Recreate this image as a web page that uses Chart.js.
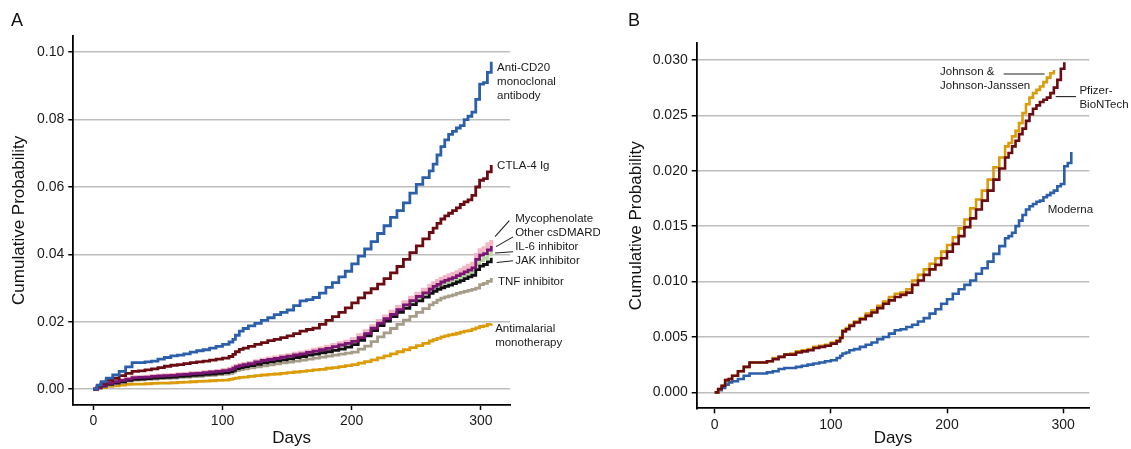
<!DOCTYPE html>
<html>
<head>
<meta charset="utf-8">
<script src="https://cdn.jsdelivr.net/npm/chart.js@4"></script>
<style>
  body { margin: 0; background: #fff; }
  #wrap { position: relative; width: 1131px; height: 449px; overflow: hidden; }
  canvas { position: absolute; top: 0; }
  .panel { position: absolute; top: 11px; font: 18px "Liberation Sans", Arial, sans-serif; color: #111; line-height: 1; }
</style>
</head>
<body>
<div id="wrap">
  <canvas id="chartA" width="600" height="449" style="left:0"></canvas>
  <canvas id="chartB" width="531" height="449" style="left:600px"></canvas>
  <div class="panel" style="left:11px">A</div>
  <div class="panel" style="left:628px">B</div>
</div>
<script>
// panel A - days since vaccination, cumulative probability per drug class
const daysA = [0, 3, 6, 10, 15, 20, 25, 30, 35, 40, 45, 50, 55, 60, 65, 70, 75, 80, 85, 90, 95,
  100, 105, 108, 110, 113, 116, 120,
  125, 130, 135, 140, 145, 150, 155, 160, 165, 170, 175, 180, 185, 190, 195, 200,
  205, 210, 215, 220, 225, 230, 235, 240, 245, 250, 255, 260,
  263, 266, 269, 272, 275, 278, 281, 284, 287, 290, 293, 296, 299, 302, 305, 308];
const antiCD20 = [0, 0.0012, 0.0022, 0.0033, 0.0042, 0.0053, 0.0066, 0.0079, 0.0079, 0.0081, 0.0083, 0.0089, 0.0094, 0.0099, 0.0101, 0.0105, 0.0110, 0.0114, 0.0117, 0.0122, 0.0127,
  0.0133, 0.0140, 0.0148, 0.0160, 0.0172, 0.0180, 0.0188,
  0.0195, 0.0204, 0.0212, 0.0221, 0.0228, 0.0235, 0.0248, 0.0262, 0.0266, 0.0272, 0.0285, 0.0302, 0.0316, 0.0333, 0.0350, 0.0372,
  0.0395, 0.0416, 0.0438, 0.0462, 0.0485, 0.0510, 0.0530, 0.0553, 0.0582, 0.0608, 0.0628, 0.0648,
  0.0668, 0.0695, 0.0720, 0.0740, 0.0756, 0.0765, 0.0775, 0.0782, 0.0800, 0.0810, 0.0822, 0.0860, 0.0905, 0.0910, 0.0940, 0.0972];
const ctla4 = [0, 0.0009, 0.0017, 0.0026, 0.0032, 0.0040, 0.0047, 0.0053, 0.0054, 0.0057, 0.0060, 0.0064, 0.0068, 0.0071, 0.0073, 0.0076, 0.0079, 0.0081, 0.0083, 0.0086, 0.0089,
  0.0092, 0.0097, 0.0103, 0.0111, 0.0118, 0.0122, 0.0127,
  0.0133, 0.0138, 0.0144, 0.0148, 0.0153, 0.0158, 0.0165, 0.0172, 0.0177, 0.0181, 0.0192, 0.0204, 0.0215, 0.0228, 0.0241, 0.0256,
  0.0271, 0.0286, 0.0298, 0.0312, 0.0328, 0.0345, 0.0364, 0.0385, 0.0405, 0.0425, 0.0446, 0.0465,
  0.0478, 0.0492, 0.0505, 0.0514, 0.0522, 0.0530, 0.0538, 0.0548, 0.0556, 0.0562, 0.0575, 0.0600, 0.0620, 0.0625, 0.0645, 0.0665];
const mycophenolate = [0, 0.0006, 0.0012, 0.0018, 0.0023, 0.0027, 0.0031, 0.0035, 0.0036, 0.0037, 0.0039, 0.0040, 0.0041, 0.0042, 0.0044, 0.0045, 0.0047, 0.0048, 0.0050, 0.0052, 0.0054,
  0.0057, 0.0060, 0.0064, 0.0069, 0.0072, 0.0075, 0.0078,
  0.0083, 0.0087, 0.0091, 0.0094, 0.0098, 0.0101, 0.0105, 0.0108, 0.0112, 0.0117, 0.0121, 0.0126, 0.0131, 0.0136, 0.0141, 0.0148,
  0.0160, 0.0172, 0.0187, 0.0202, 0.0216, 0.0230, 0.0244, 0.0258, 0.0271, 0.0283, 0.0295, 0.0306,
  0.0314, 0.0321, 0.0328, 0.0333, 0.0338, 0.0342, 0.0347, 0.0353, 0.0360, 0.0366, 0.0372, 0.0398, 0.0412, 0.0418, 0.0430, 0.0443];
const otherCsdmard = [0, 0.0005, 0.0010, 0.0016, 0.0021, 0.0025, 0.0029, 0.0032, 0.0033, 0.0034, 0.0036, 0.0037, 0.0038, 0.0040, 0.0041, 0.0042, 0.0044, 0.0045, 0.0047, 0.0049, 0.0051,
  0.0053, 0.0056, 0.0060, 0.0065, 0.0068, 0.0071, 0.0074,
  0.0078, 0.0082, 0.0085, 0.0088, 0.0092, 0.0095, 0.0099, 0.0102, 0.0106, 0.0109, 0.0113, 0.0117, 0.0122, 0.0127, 0.0132, 0.0137,
  0.0149, 0.0162, 0.0178, 0.0193, 0.0205, 0.0218, 0.0232, 0.0245, 0.0257, 0.0268, 0.0279, 0.0290,
  0.0297, 0.0303, 0.0310, 0.0314, 0.0318, 0.0322, 0.0327, 0.0332, 0.0338, 0.0343, 0.0349, 0.0370, 0.0382, 0.0388, 0.0399, 0.0410];
const il6 = [0, 0.0005, 0.0011, 0.0017, 0.0022, 0.0026, 0.0030, 0.0034, 0.0035, 0.0036, 0.0038, 0.0039, 0.0040, 0.0041, 0.0043, 0.0044, 0.0046, 0.0047, 0.0049, 0.0051, 0.0053,
  0.0055, 0.0058, 0.0062, 0.0067, 0.0070, 0.0073, 0.0076,
  0.0081, 0.0085, 0.0088, 0.0091, 0.0095, 0.0098, 0.0102, 0.0105, 0.0109, 0.0113, 0.0117, 0.0121, 0.0126, 0.0131, 0.0136, 0.0142,
  0.0153, 0.0165, 0.0181, 0.0196, 0.0209, 0.0222, 0.0236, 0.0250, 0.0263, 0.0275, 0.0286, 0.0297,
  0.0305, 0.0311, 0.0318, 0.0323, 0.0327, 0.0331, 0.0337, 0.0342, 0.0348, 0.0353, 0.0360, 0.0385, 0.0398, 0.0402, 0.0413, 0.0425];
const jak = [0, 0.0004, 0.0009, 0.0014, 0.0018, 0.0022, 0.0026, 0.0029, 0.0030, 0.0031, 0.0033, 0.0034, 0.0035, 0.0036, 0.0038, 0.0039, 0.0041, 0.0042, 0.0044, 0.0045, 0.0047,
  0.0049, 0.0052, 0.0056, 0.0061, 0.0064, 0.0067, 0.0070,
  0.0074, 0.0078, 0.0081, 0.0084, 0.0087, 0.0090, 0.0094, 0.0097, 0.0101, 0.0104, 0.0108, 0.0111, 0.0115, 0.0119, 0.0125, 0.0132,
  0.0145, 0.0158, 0.0174, 0.0189, 0.0202, 0.0215, 0.0228, 0.0240, 0.0251, 0.0262, 0.0273, 0.0284,
  0.0290, 0.0296, 0.0301, 0.0305, 0.0309, 0.0313, 0.0318, 0.0322, 0.0328, 0.0333, 0.0338, 0.0355, 0.0365, 0.0370, 0.0378, 0.0390];
const tnf = [0, 0.0004, 0.0008, 0.0012, 0.0016, 0.0020, 0.0024, 0.0027, 0.0028, 0.0029, 0.0030, 0.0031, 0.0032, 0.0033, 0.0035, 0.0036, 0.0037, 0.0038, 0.0040, 0.0041, 0.0043,
  0.0045, 0.0047, 0.0051, 0.0055, 0.0058, 0.0060, 0.0063,
  0.0066, 0.0069, 0.0072, 0.0075, 0.0078, 0.0080, 0.0083, 0.0086, 0.0089, 0.0092, 0.0095, 0.0098, 0.0101, 0.0104, 0.0107, 0.0110,
  0.0119, 0.0128, 0.0141, 0.0155, 0.0167, 0.0180, 0.0192, 0.0205, 0.0216, 0.0228, 0.0239, 0.0250,
  0.0257, 0.0264, 0.0270, 0.0274, 0.0277, 0.0280, 0.0284, 0.0287, 0.0290, 0.0293, 0.0296, 0.0300, 0.0310, 0.0314, 0.0320, 0.0330];
const antimalarial = [0, 0.0003, 0.0005, 0.0008, 0.0010, 0.0012, 0.0014, 0.0015, 0.0015, 0.0016, 0.0017, 0.0018, 0.0018, 0.0019, 0.0020, 0.0021, 0.0022, 0.0023, 0.0024, 0.0025, 0.0026,
  0.0027, 0.0029, 0.0031, 0.0033, 0.0035, 0.0036, 0.0038,
  0.0040, 0.0042, 0.0044, 0.0045, 0.0047, 0.0049, 0.0051, 0.0053, 0.0055, 0.0057, 0.0059, 0.0062, 0.0064, 0.0067, 0.0070, 0.0073,
  0.0077, 0.0082, 0.0087, 0.0093, 0.0099, 0.0105, 0.0111, 0.0117, 0.0123, 0.0129, 0.0136, 0.0143,
  0.0147, 0.0151, 0.0155, 0.0158, 0.0161, 0.0163, 0.0166, 0.0169, 0.0172, 0.0174, 0.0178, 0.0182, 0.0186, 0.0188, 0.0192, 0.0195];

// panel B - by vaccine (null = no follow-up left)
const daysB = [0, 3, 6, 9, 12, 15, 20, 25, 30, 35, 40, 45, 50, 55, 60, 65, 70, 75, 80, 85, 90, 95, 100,
  105, 108, 110, 113, 116, 120,
  125, 130, 135, 140, 145, 150, 155, 160, 165, 170, 175, 180, 185, 190, 195, 200, 205, 210, 215, 220, 225, 230, 235, 240, 245, 250,
  253, 256, 259, 262, 265, 268, 271, 274, 277, 280, 283, 286, 289, 292, 295, 298, 301, 304, 307];
const janssen = [0, 0.0003, 0.0006, 0.0011, 0.0012, 0.0015, 0.0019, 0.0023, 0.0027, 0.0027, 0.0027, 0.0028, 0.0031, 0.0032, 0.0034, 0.0035, 0.0037, 0.0038, 0.0039, 0.0041, 0.0042, 0.0043, 0.0045,
  0.0047, 0.0050, 0.0056, 0.0058, 0.0061, 0.0064,
  0.0067, 0.0071, 0.0074, 0.0078, 0.0082, 0.0086, 0.0089, 0.0090, 0.0093, 0.0101, 0.0106, 0.0111, 0.0116, 0.0121, 0.0127, 0.0133, 0.0140, 0.0148, 0.0156, 0.0166, 0.0174, 0.0182, 0.0192, 0.0203, 0.0212, 0.0222,
  0.0225, 0.0231, 0.0236, 0.0243, 0.0252, 0.0260, 0.0266, 0.0270, 0.0273, 0.0276, 0.0280, 0.0284, 0.0288, 0.0291, null, null, null, null, null];
const pfizer = [0, 0.0003, 0.0006, 0.0011, 0.0012, 0.0015, 0.0019, 0.0023, 0.0027, 0.0027, 0.0027, 0.0028, 0.0030, 0.0032, 0.0034, 0.0034, 0.0036, 0.0037, 0.0038, 0.0040, 0.0041, 0.0042, 0.0044,
  0.0046, 0.0049, 0.0055, 0.0057, 0.0060, 0.0063,
  0.0066, 0.0069, 0.0072, 0.0076, 0.0080, 0.0083, 0.0086, 0.0088, 0.0090, 0.0097, 0.0101, 0.0106, 0.0111, 0.0115, 0.0121, 0.0127, 0.0134, 0.0141, 0.0149, 0.0157, 0.0165, 0.0173, 0.0182, 0.0192, 0.0202, 0.0212,
  0.0216, 0.0222, 0.0227, 0.0233, 0.0238, 0.0245, 0.0251, 0.0256, 0.0259, 0.0262, 0.0264, 0.0266, 0.0270, 0.0275, 0.0282, 0.0292, 0.0298, null, null];
const moderna = [0, 0.0002, 0.0004, 0.0007, 0.0009, 0.0010, 0.0012, 0.0015, 0.0017, 0.0017, 0.0017, 0.0018, 0.0019, 0.0021, 0.0022, 0.0022, 0.0023, 0.0024, 0.0025, 0.0026, 0.0027, 0.0028, 0.0029,
  0.0031, 0.0033, 0.0035, 0.0036, 0.0038, 0.0039,
  0.0041, 0.0043, 0.0045, 0.0048, 0.0050, 0.0053, 0.0056, 0.0057, 0.0059, 0.0061, 0.0064, 0.0067, 0.0071, 0.0075, 0.0080, 0.0084, 0.0089, 0.0093, 0.0097, 0.0101, 0.0107, 0.0112, 0.0118, 0.0125, 0.0132, 0.0139,
  0.0141, 0.0144, 0.0150, 0.0155, 0.0160, 0.0165, 0.0168, 0.0170, 0.0172, 0.0173, 0.0176, 0.0178, 0.0180, 0.0182, 0.0186, 0.0188, 0.0204, 0.0207, 0.0217];

const xTicks = [0, 100, 200, 300];
const yTicksA = [0, 0.02, 0.04, 0.06, 0.08, 0.10];
const yTicksB = [0, 0.005, 0.010, 0.015, 0.020, 0.025, 0.030];

// text labels next to the curve ends (day, probability)
const notesA = [
  { day: 312.5, val: 0.0955, lines: ['Anti-CD20', 'monoclonal', 'antibody'] },
  { day: 312.5, val: 0.0663, lines: ['CTLA-4 Ig'] },
  { day: 326.5, val: 0.0505, lines: ['Mycophenolate'] },
  { day: 326.5, val: 0.0464, lines: ['Other csDMARD'] },
  { day: 326.5, val: 0.0422, lines: ['IL-6 inhibitor'] },
  { day: 326.5, val: 0.0382, lines: ['JAK inhibitor'] },
  { day: 313.2, val: 0.0319, lines: ['TNF inhibitor'] },
  { day: 311, val: 0.0178, lines: ['Antimalarial', 'monotherapy'] }
];
const leadersA = [
  [310.9, 0.0453, 322, 0.0500],
  [311.7, 0.0423, 324.9, 0.0452],
  [310.9, 0.0404, 324.9, 0.0408],
  [312.2, 0.0376, 324.9, 0.0381]
];
const notesB = [
  { day: 194, val: 0.0289, lines: ['Johnson &', 'Johnson-Janssen'] },
  { day: 314, val: 0.02723, lines: ['Pfizer-', 'BioNTech'] },
  { day: 286.7, val: 0.01646, lines: ['Moderna'] }
];
const leadersB = [
  [248.7, 0.02873, 284, 0.02873],
  [293.6, 0.02669, 311, 0.02669]
];

const FONT = '"Liberation Sans", Arial, sans-serif';
Chart.defaults.font.family = FONT;
Chart.defaults.color = '#1a1a1a';

function series(days, vals) {
  if (days.length !== vals.length) throw new Error('length mismatch ' + days.length + ' vs ' + vals.length);
  let out = [];
  for (let i = 0; i < days.length; i++) {
    if (vals[i] !== null) out.push({ x: days[i], y: vals[i] });
  }
  return out;
}

function line(label, days, vals, color, width) {
  return {
    label: label,
    data: series(days, vals),
    borderColor: color,
    borderWidth: width,
    stepped: true,
    pointRadius: 0,
    fill: false
  };
}

const annotate = {
  id: 'annotate',
  afterDatasetsDraw(chart, args, opts) {
    const ctx = chart.ctx;
    const x = chart.scales.x, y = chart.scales.y;
    ctx.save();
    ctx.strokeStyle = '#222';
    ctx.lineWidth = 1.1;
    for (const l of opts.leaders) {
      ctx.beginPath();
      ctx.moveTo(x.getPixelForValue(l[0]), y.getPixelForValue(l[1]));
      ctx.lineTo(x.getPixelForValue(l[2]), y.getPixelForValue(l[3]));
      ctx.stroke();
    }
    ctx.font = '11.5px ' + FONT;
    ctx.fillStyle = '#1a1a1a';
    ctx.textBaseline = 'middle';
    ctx.textAlign = 'left';
    for (const n of opts.notes) {
      n.lines.forEach((t, i) => {
        ctx.fillText(t, x.getPixelForValue(n.day), y.getPixelForValue(n.val) + i * 14);
      });
    }
    ctx.restore();
  }
};

function makeOptions(area, yMin, yMax, yTicks, digits, titlePad, notes, leaders) {
  return {
    responsive: false,
    animation: false,
    devicePixelRatio: 1,
    layout: { padding: { left: 0, top: area.top, right: area.right, bottom: 0 } },
    plugins: {
      legend: { display: false },
      tooltip: { enabled: false },
      annotate: { notes: notes, leaders: leaders }
    },
    scales: {
      x: {
        type: 'linear',
        min: -15.5,
        max: 322.5,
        afterBuildTicks: s => { s.ticks = xTicks.map(v => ({ value: v })); },
        afterFit: s => { s.height = area.xHeight; },
        border: { display: true, color: '#000', width: 1.8 },
        grid: { drawOnChartArea: false, tickLength: 5, tickColor: '#000', tickWidth: 1.5 },
        ticks: { font: { size: 14 }, color: '#1a1a1a', padding: 3, maxRotation: 0, autoSkip: false },
        title: { display: true, text: 'Days', font: { size: 17 }, color: '#111', padding: { top: 0, bottom: 0 } }
      },
      y: {
        type: 'linear',
        min: yMin,
        max: yMax,
        afterBuildTicks: s => { s.ticks = yTicks.map(v => ({ value: v })); },
        afterFit: s => { s.width = area.yWidth; },
        border: { display: true, color: '#000', width: 1.8 },
        grid: { color: '#bdbdbd', lineWidth: 1.5, tickLength: 5, tickColor: '#000', tickWidth: 1.5 },
        ticks: { font: { size: 14 }, color: '#1a1a1a', padding: 4, callback: v => v.toFixed(digits) },
        title: { display: true, text: 'Cumulative Probability', font: { size: 17 }, color: '#111', padding: { top: titlePad, bottom: 0 } }
      }
    }
  };
}

new Chart(document.getElementById('chartA'), {
  type: 'line',
  data: {
    datasets: [
      line('Anti-CD20 monoclonal antibody', daysA, antiCD20, '#2c5faa', 2.8),
      line('CTLA-4 Ig', daysA, ctla4, '#6b0c12', 2.8),
      line('IL-6 inhibitor', daysA, il6, '#7b1574', 2.8),
      line('JAK inhibitor', daysA, jak, '#111111', 2.8),
      line('Other csDMARD', daysA, otherCsdmard, '#b5d9a0', 3),
      line('Mycophenolate', daysA, mycophenolate, '#f2b6c4', 4),
      line('TNF inhibitor', daysA, tnf, '#a69d88', 2.8),
      line('Antimalarial monotherapy', daysA, antimalarial, '#dc9c0a', 2.8)
    ]
  },
  options: makeOptions({ top: 35.7, right: 90, xHeight: 44, yWidth: 73.3 }, -0.0047, 0.1049, yTicksA, 2, 9, notesA, leadersA),
  plugins: [annotate]
});

new Chart(document.getElementById('chartB'), {
  type: 'line',
  data: {
    datasets: [
      line('Pfizer-BioNTech', daysB, pfizer, '#6b0c12', 2.6),
      line('Johnson & Johnson-Janssen', daysB, janssen, '#dc9c0a', 2.6),
      line('Moderna', daysB, moderna, '#2c5faa', 2.6)
    ]
  },
  options: makeOptions({ top: 43.3, right: 41.7, xHeight: 40.7, yWidth: 96.7 }, -0.00144, 0.0315, yTicksB, 3, 26, notesB, leadersB),
  plugins: [annotate]
});
</script>
</body>
</html>
